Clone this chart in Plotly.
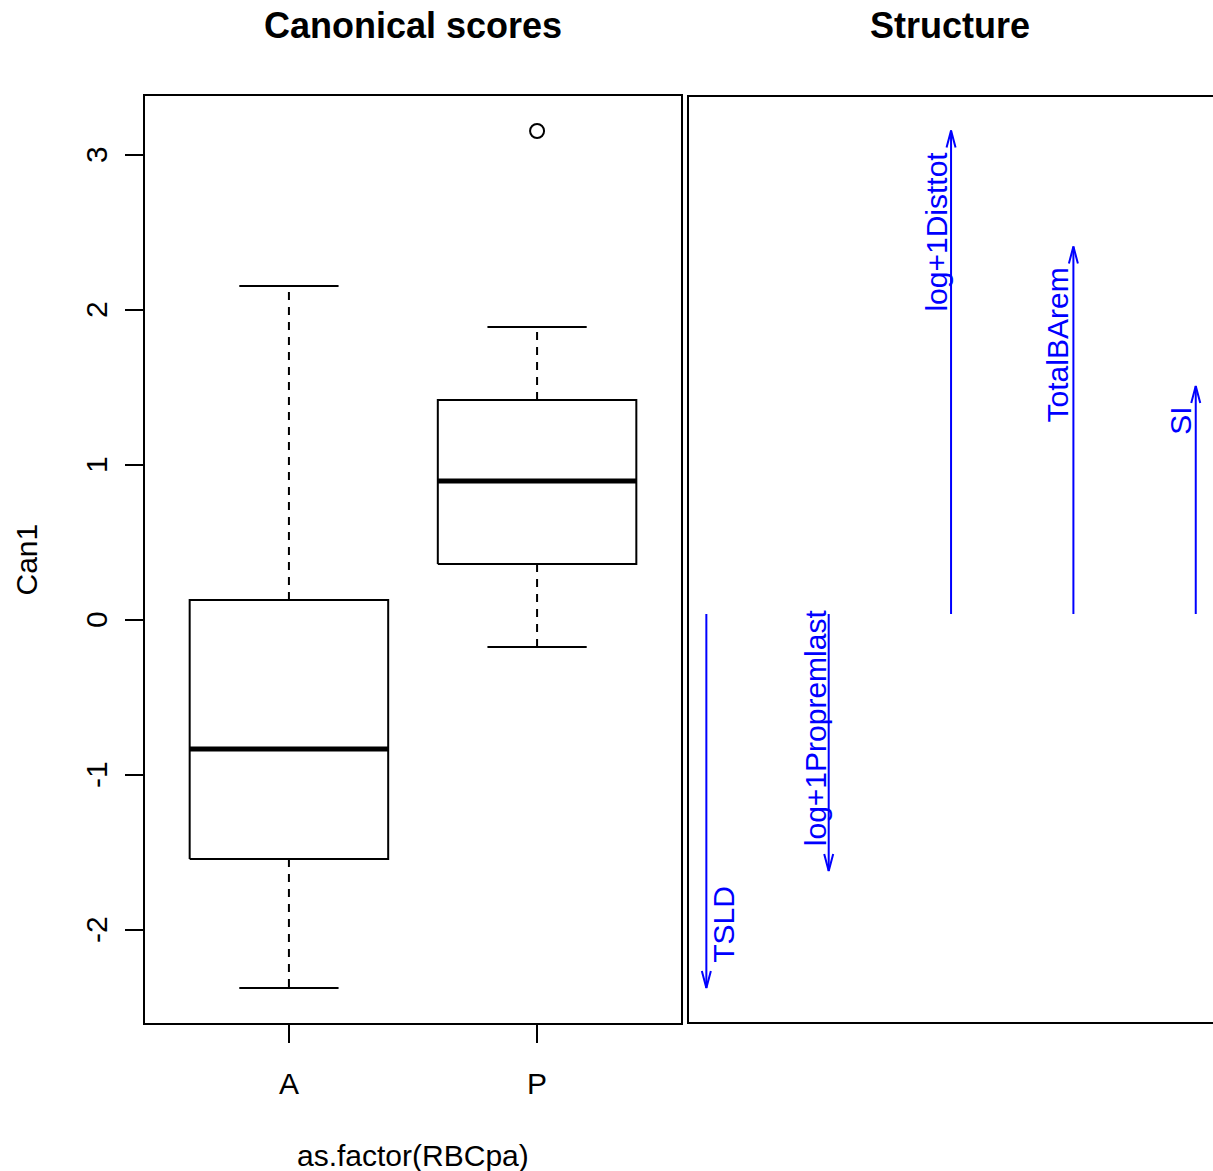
import plotly.graph_objects as go

# ---------------- data ----------------
groups = ["A", "P"]
whisk_lo = [-2.374, -0.174]
q1 = [-1.542, 0.361]
median = [-0.832, 0.897]
q3 = [0.129, 1.419]
whisk_hi = [2.155, 1.890]
outlier_group = ["P"]
outlier_val = [3.155]

variables = ["TSLD", "log+1Propremlast", "log+1Disttot", "TotalBArem", "SI"]
structure = [-0.748, -0.514, 0.967, 0.735, 0.456]

y_ticks = [-2, -1, 0, 1, 2, 3]

# ---------------- style / geometry ----------------
PAGE_MARGIN = 0            # body margin removed by post_script below
W, H = 1213 - PAGE_MARGIN, 1171 - PAGE_MARGIN


def px(xs):
    return (xs - PAGE_MARGIN) / W


def py(ys):
    return (H - (ys - PAGE_MARGIN)) / H


L_X0, L_X1 = 145, 681
R_X0 = 688
P_TOP, P_BOT = 96, 1023
FONT = "Liberation Sans, Arial, Helvetica, sans-serif"
BLUE = "#0000FF"
LW = 2
BOX_HALF = 0.4
CAP_HALF = 0.2
X1_RANGE = [0.42, 2.58]
Y1_RANGE = [-2.6, 3.3806]
X2_RANGE = [0.85, 5.141]
Y2_RANGE = [-0.818, 1.036]
HEAD_LEN_PX = 17
HEAD_HALF_PX = 4.5
label_xshift = [17, -13, -15, -15, -15]
label_yshift_up = -19
label_yshift_down = 23

ydom = [py(P_BOT), py(P_TOP)]

fig = go.Figure()

# ---------------- boxplots ----------------
for i, g in enumerate(groups):
    xc = i + 1
    fig.add_trace(go.Scatter(
        x=[xc - BOX_HALF, xc + BOX_HALF, xc + BOX_HALF, xc - BOX_HALF, xc - BOX_HALF],
        y=[q1[i], q1[i], q3[i], q3[i], q1[i]],
        mode="lines", line=dict(color="black", width=LW), xaxis="x", yaxis="y",
        hoverinfo="skip", showlegend=False))
    fig.add_trace(go.Scatter(
        x=[xc - BOX_HALF, xc + BOX_HALF], y=[median[i], median[i]],
        mode="lines", line=dict(color="black", width=5), xaxis="x", yaxis="y",
        hoverinfo="skip", showlegend=False))
    for a, b in ((q3[i], whisk_hi[i]), (q1[i], whisk_lo[i])):
        fig.add_trace(go.Scatter(
            x=[xc, xc], y=[a, b], mode="lines",
            line=dict(color="black", width=LW, dash="8px,7px"),
            xaxis="x", yaxis="y", hoverinfo="skip", showlegend=False))
    for v in (whisk_hi[i], whisk_lo[i]):
        fig.add_trace(go.Scatter(
            x=[xc - CAP_HALF, xc + CAP_HALF], y=[v, v], mode="lines",
            line=dict(color="black", width=LW), xaxis="x", yaxis="y",
            hoverinfo="skip", showlegend=False))

fig.add_trace(go.Scatter(
    x=[groups.index(g) + 1 for g in outlier_group], y=outlier_val,
    mode="markers", marker=dict(symbol="circle-open", size=14, color="black",
                                line=dict(width=2, color="black")),
    xaxis="x", yaxis="y", hoverinfo="skip", showlegend=False))

# ---------------- structure arrows ----------------
x2_units_per_px = (X2_RANGE[1] - X2_RANGE[0]) / (W - (R_X0 - PAGE_MARGIN))
y2_units_per_px = (Y2_RANGE[1] - Y2_RANGE[0]) / (P_BOT - P_TOP)
hl = HEAD_LEN_PX * y2_units_per_px
hw = HEAD_HALF_PX * x2_units_per_px

annotations = []
for i, (v, s) in enumerate(zip(variables, structure)):
    xc = i + 1
    sgn = 1 if s > 0 else -1
    fig.add_trace(go.Scatter(
        x=[xc, xc, None, xc - hw, xc, xc + hw],
        y=[0, s, None, s - sgn * hl, s, s - sgn * hl],
        mode="lines", line=dict(color=BLUE, width=LW), xaxis="x2", yaxis="y2",
        hoverinfo="skip", showlegend=False))
    annotations.append(dict(
        x=xc, y=s, xref="x2", yref="y2", text=v, showarrow=False,
        textangle=-90, font=dict(family=FONT, size=30, color=BLUE),
        xanchor="center", yanchor="top" if s > 0 else "bottom",
        xshift=label_xshift[i],
        yshift=label_yshift_up if s > 0 else label_yshift_down))

annotations += [
    dict(text="<b>Canonical scores</b>", x=px((L_X0 + L_X1) / 2), y=py(25),
         xref="paper", yref="paper", showarrow=False, xanchor="center", yanchor="middle",
         font=dict(family=FONT, size=36, color="black")),
    dict(text="<b>Structure</b>", x=px(950), y=py(25),
         xref="paper", yref="paper", showarrow=False, xanchor="center", yanchor="middle",
         font=dict(family=FONT, size=36, color="black")),
    dict(text="Can1", x=px(26), y=py((P_TOP + P_BOT) / 2), textangle=-90,
         xref="paper", yref="paper", showarrow=False, xanchor="center", yanchor="middle",
         font=dict(family=FONT, size=30, color="black")),
    dict(text="as.factor(RBCpa)", x=px((L_X0 + L_X1) / 2), y=py(1155),
         xref="paper", yref="paper", showarrow=False, xanchor="center", yanchor="middle",
         font=dict(family=FONT, size=30, color="black")),
]

axis_common = dict(showgrid=False, zeroline=False, showline=True, mirror=True,
                   linecolor="black", linewidth=LW, ticks="outside", ticklen=18,
                   tickwidth=LW, tickcolor="black",
                   tickfont=dict(family=FONT, size=30, color="black"))

fig.update_layout(
    width=W, height=H, margin=dict(l=0, r=0, t=0, b=0),
    paper_bgcolor="white", plot_bgcolor="white", showlegend=False,
    xaxis=dict(domain=[px(L_X0), px(L_X1)], range=X1_RANGE, tickmode="array",
               tickvals=[i + 1 for i in range(len(groups))], ticktext=groups,
               ticklabelstandoff=15, **axis_common),
    yaxis=dict(domain=ydom, range=Y1_RANGE, tickmode="array", tickvals=y_ticks,
               ticktext=[f"{t}\u00a0" for t in y_ticks], tickangle=-90,
               ticklabelstandoff=6, **axis_common),
    xaxis2=dict(domain=[px(R_X0), 1.0], range=X2_RANGE, visible=False, anchor="y2"),
    yaxis2=dict(domain=ydom, range=Y2_RANGE, visible=False, anchor="x2"),
    annotations=annotations,
    shapes=[dict(type="rect", xref="paper", yref="paper",
                 x0=px(R_X0), x1=1.02, y0=ydom[0], y1=ydom[1],
                 line=dict(color="black", width=LW), fillcolor="rgba(0,0,0,0)")],
)

fig.write_html("out.html",
               config={"displayModeBar": False},
               post_script="document.body.style.margin='0px';"
                           "document.body.style.overflow='hidden';")
